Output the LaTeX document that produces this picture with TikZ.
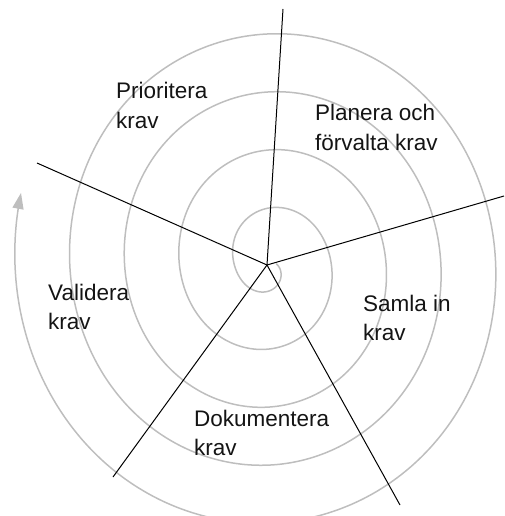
\documentclass[tikz,border=0pt]{standalone}
\usepackage{fontspec}
\setmainfont{Liberation Sans}
\usetikzlibrary{arrows.meta}
\definecolor{spiralgray}{RGB}{190,190,190}
\definecolor{textdark}{RGB}{20,20,20}
\begin{document}
\begin{tikzpicture}[x=1pt,y=-1pt,
  spiral/.style={draw=spiralgray,line width=1.5pt,line cap=round},
  spoke/.style={draw=black,line width=1pt},
  label/.style={anchor=base west,inner sep=0pt,align=left,text=textdark,
    font=\fontsize{22.5}{29.3}\selectfont},
  declare function={rr(\t)=10+0.1567*\t-(2.5+0.0045*\t)*cos(2*\t);}]
\useasboundingbox (0,0) rectangle (504,516);
% spiral
\draw[spiral,-{Triangle[length=16pt,width=11pt]}]
  plot[domain=0:1636,samples=500,smooth,variable=\t]
  ({269+rr(\t)*cos(\t)},{264+rr(\t)*sin(\t)});
% spokes
\coordinate (c) at (267,265);
\coordinate (eTop) at (283,9);
\coordinate (eRight) at (504,196);
\coordinate (eBR) at (400,505);
\coordinate (eBL) at (113,477);
\coordinate (eLeft) at (37,163);
\draw[spoke] (c) -- (eTop);
\draw[spoke] (c) -- (eRight);
\draw[spoke] (c) -- (eBR);
\draw[spoke] (c) -- (eBL);
\draw[spoke] (c) -- (eLeft);
% labels (anchor = baseline of last line)
\node[label] (prio) at (116,128.3) {Prioritera\\krav};
\node[label] (plan) at (315,150) {Planera och\\förvalta krav};
\node[label] (samla) at (363,340.3) {Samla in\\krav};
\node[label] (valid) at (48,329.3) {Validera\\krav};
\node[label] (dok) at (194,455.3) {Dokumentera\\krav};
\end{tikzpicture}
\end{document}
